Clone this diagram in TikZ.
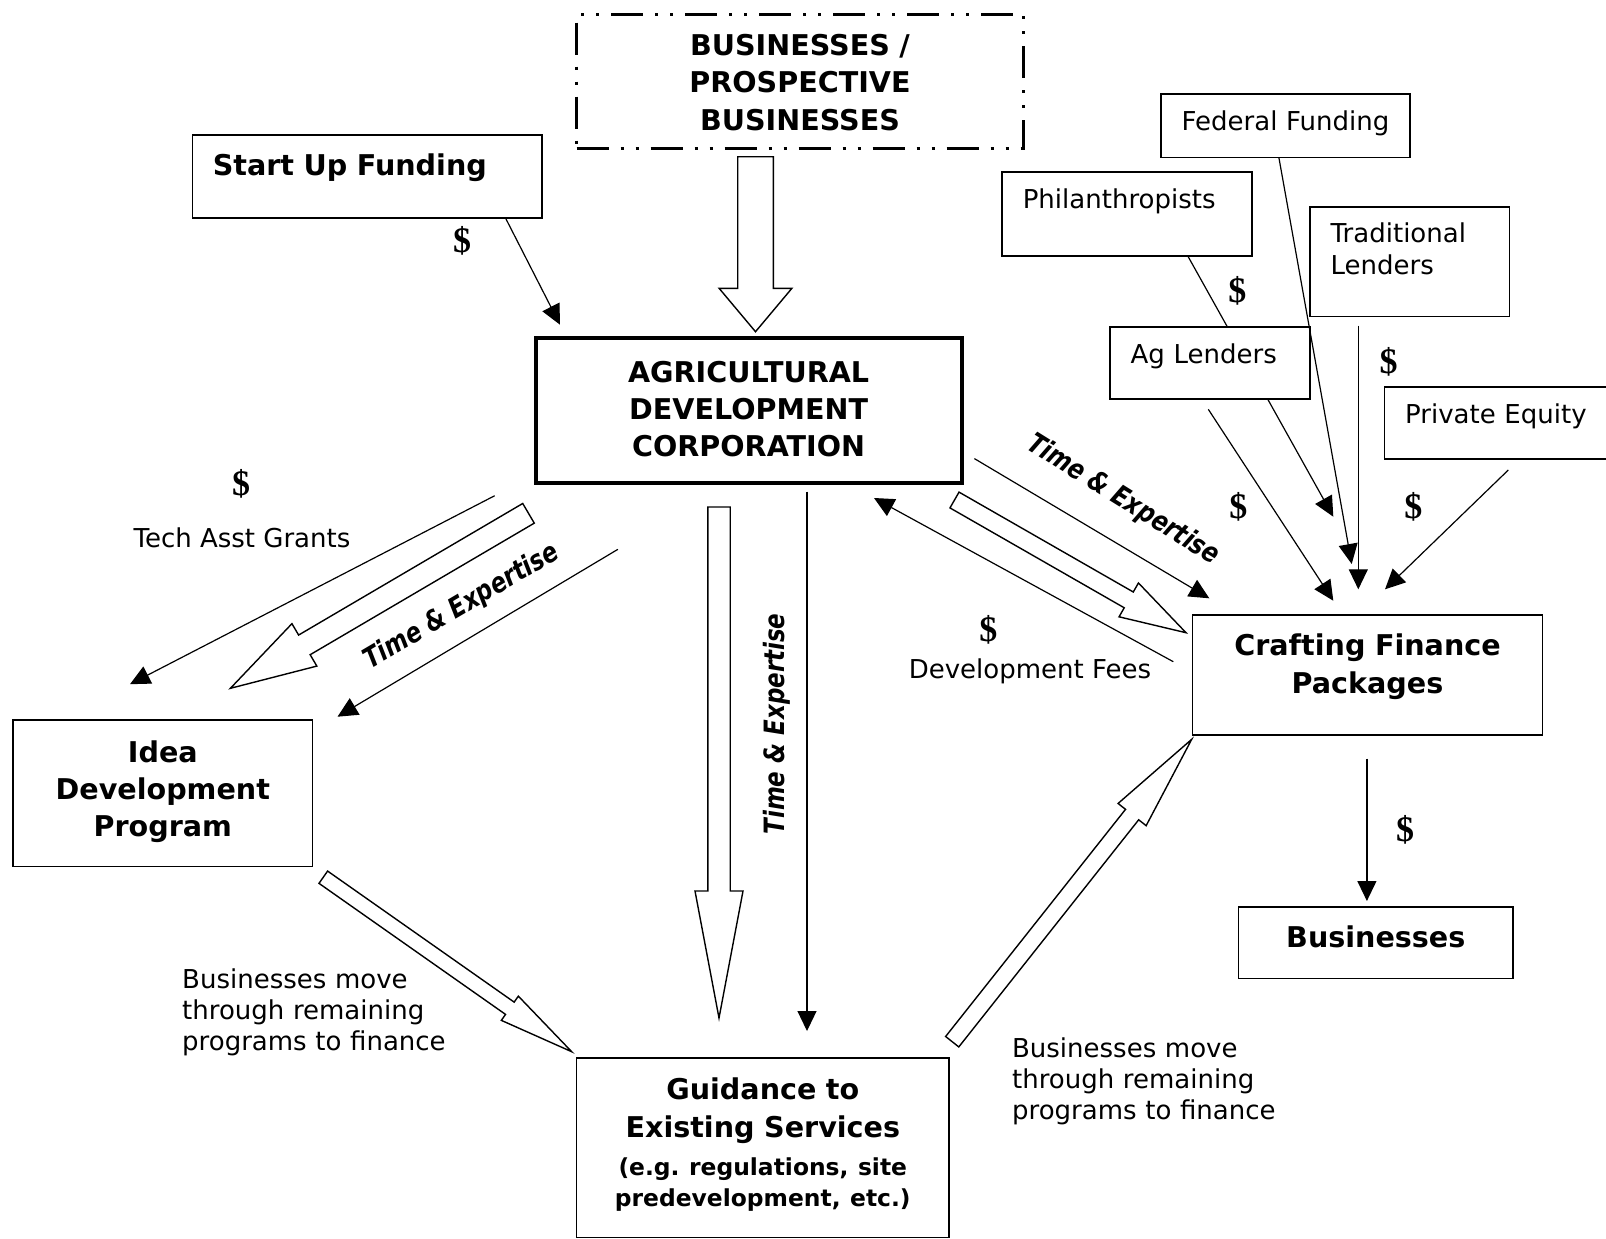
\documentclass[tikz,border=0pt]{standalone}
\usepackage{fontspec}
\setmainfont{DejaVu Sans}
\newfontfamily\dollarfont{Liberation Serif}
\newfontfamily\narrowfont[FakeStretch=0.82]{DejaVu Sans}
\usetikzlibrary{arrows.meta, calc}
\newcommand{\fatarrow}[5]{%
  \coordinate (fa-base) at ($(#2)!#5!(#1)$);
  \draw[hollow] ($(#1)!#3!90:(#2)$) -- ($(fa-base)!#3!-90:(#1)$) -- ($(fa-base)!#4!-90:(#1)$)
    -- (#2) -- ($(fa-base)!#4!90:(#1)$) -- ($(fa-base)!#3!90:(#1)$) -- ($(#1)!#3!-90:(#2)$) -- cycle;
}
\tikzset{
  srcbox/.style={draw, line width=0.8pt, fill=white, anchor=north west, align=left, inner xsep=10.4pt, inner ysep=0pt, font=\fontsize{13}{16}\selectfont},
  mainbox/.style={draw, line width=0.8pt, fill=white, anchor=north west, align=center, inner sep=0pt, font=\fontsize{14.3}{18.6}\selectfont\bfseries},
  flow/.style={-{Triangle[length=10pt, width=9.5pt]}, line width=0.6pt},
  link/.style={line width=0.6pt},
  hollow/.style={draw, fill=white, line width=0.7pt, line join=miter},
  money/.style={font=\dollarfont\bfseries\fontsize{18}{18}\selectfont, inner sep=0pt},
  note/.style={font=\fontsize{13}{15.5}\selectfont, inner sep=0pt},
  expert/.style={font=\narrowfont\bfseries\itshape\fontsize{14}{14}\selectfont, inner sep=0pt},
}
\begin{document}
\begin{tikzpicture}[x=0.5pt, y=-0.5pt]
  \useasboundingbox (0,0) rectangle (1606,1238);

  % main boxes
  \node[mainbox, line width=1.5pt, dash pattern=on 16pt off 6pt on 1.5pt off 6pt on 1.5pt off 6pt,
        text width=223.5pt, text height=20.6pt, text depth=46.4pt] (bpb) at (575,13) {BUSINESSES /\\PROSPECTIVE\\BUSINESSES};
  \node[mainbox, line width=2pt, text width=213pt, text height=22.1pt, text depth=50.4pt] (adc) at (533.6,336) {AGRICULTURAL\\DEVELOPMENT\\CORPORATION};
  \node[srcbox, font=\fontsize{14.3}{18.6}\selectfont\bfseries, inner xsep=10.25pt, text width=154.2pt, text height=20.1pt, text depth=21.6pt] (su) at (191.5,134) {Start Up Funding};
  \node[mainbox, text width=149.7pt, text height=21.1pt, text depth=52.3pt] (idea) at (12.3,719) {Idea\\Development\\Program};
  \node[mainbox, text width=186.4pt, text height=21.05pt, text depth=68.8pt] (gui) at (575.6,1057)
    {Guidance to\\Existing Services\par\vspace{3.6pt}{\fontsize{11.7}{15.5}\selectfont(e.g.\ regulations, site\\predevelopment, etc.)\par}};
  \node[mainbox, text width=174.9pt, text height=20.4pt, text depth=39.6pt] (craft) at (1191.8,614.2) {Crafting Finance\\Packages};
  \node[mainbox, text width=137.3pt, text height=20.2pt, text depth=15.6pt] (biz) at (1237.7,906) {Businesses};

  % funding sources
  \node[srcbox, text width=103.7pt, text height=18.2pt, text depth=13.55pt] (fed) at (1160,93) {\mbox{Federal Funding}};
  \node[srcbox, text width=104.2pt, text height=18.5pt, text depth=23.5pt] (phil) at (1001.2,171) {Philanthropists};
  \coordinate (phil-tip) at (1333.3,516.7);
  \draw[flow] (phil.-35.1) -- (phil-tip);
  \node[srcbox, text width=79.1pt, text height=17.95pt, text depth=36.9pt] (trad) at (1309,206) {Traditional\\Lenders};
  \node[srcbox, text width=79.2pt, text height=18.3pt, text depth=17.5pt] (ag) at (1109,326.4) {Ag Lenders};
  \node[srcbox, text width=92.5pt, text height=18.3pt, text depth=17.85pt] (pe) at (1383.5,386) {\mbox{Private Equity}};

  % free ends
  \coordinate (su-tip) at (560,324.7);
  \coordinate (fed-tip) at (1351.7,564);
  \coordinate (ag-out) at (1208.3,409.3);
  \coordinate (ag-tip) at (1333.3,600.7);
  \coordinate (trad-out) at (1358.3,325.7);
  \coordinate (trad-tip) at (1358.3,589.3);
  \coordinate (pe-out) at (1508.3,470);
  \coordinate (pe-tip) at (1385,589.3);
  \coordinate (adc-craft-out) at (974.4,458.6);
  \coordinate (adc-craft-tip) at (1209.3,598.3);
  \coordinate (fees-out) at (1173.3,661.7);
  \coordinate (fees-tip) at (874,498);
  \coordinate (grant-out) at (494.7,495.7);
  \coordinate (grant-tip) at (130,684.2);
  \coordinate (te-out) at (617.9,549.3);
  \coordinate (te-tip) at (337.5,716.7);
  \coordinate (adc-gui-out) at (807,491.6);
  \coordinate (adc-gui-tip) at (807,1031);
  \coordinate (craft-biz-out) at (1366.9,758.7);
  \coordinate (craft-biz-tip) at (1366.9,901);

  \draw[flow] (su.-17.7) -- (su-tip);
  \draw[flow] (fed.-101.6) -- (fed-tip);
  \draw[flow] (ag-out) -- (ag-tip);
  \draw[flow] (trad-out) -- (trad-tip);
  \draw[flow] (pe-out) -- (pe-tip);
  \draw[flow] (adc-craft-out) -- (adc-craft-tip);
  \draw[flow] (fees-out) -- (fees-tip);
  \draw[flow] (grant-out) -- (grant-tip);
  \draw[flow] (te-out) -- (te-tip);
  \draw[flow] (adc-gui-out) -- (adc-gui-tip);
  \draw[flow] (craft-biz-out) -- (craft-biz-tip);

  % hollow arrows
  \coordinate (bpb-tail) at (755.5,156.7);   \coordinate (bpb-head) at (755.5,331.7);
  \coordinate (idea-tail) at (528.5,513.3);  \coordinate (idea-head) at (230.4,688.3);
  \coordinate (gui-tail) at (719,507);       \coordinate (gui-head) at (719,1018);
  \coordinate (craft-tail) at (954.5,500);   \coordinate (craft-head) at (1186,632.7);
  \coordinate (move1-tail) at (323.3,877.2); \coordinate (move1-head) at (571.7,1051.7);
  \coordinate (move2-tail) at (952.2,1041.7);\coordinate (move2-head) at (1191.7,739.3);
  \fatarrow{bpb-tail}{bpb-head}{8.9pt}{18.2pt}{21.7pt}
  \fatarrow{idea-tail}{idea-head}{5.7pt}{12.3pt}{42.9pt}
  \fatarrow{gui-tail}{gui-head}{5.6pt}{12pt}{63.5pt}
  \fatarrow{craft-tail}{craft-head}{4.55pt}{9.75pt}{33pt}
  \fatarrow{move1-tail}{move1-head}{3.75pt}{7.4pt}{37.8pt}
  \fatarrow{move2-tail}{move2-head}{4.2pt}{8.95pt}{48pt}

  % labels
  \node[money] (dol-su) at (462,240.7) {\$};
  \node[money] (dol-tech) at (241,484) {\$};
  \node[note] (tech) at (242,538) {Tech Asst Grants};
  \node[money] (dol-fees) at (988.3,630) {\$};
  \node[note] (fees) at (1030,671.5) {Development Fees};
  \node[money] (dol-phil) at (1237.3,290.7) {\$};
  \node[money] (dol-trad) at (1388.5,362.1) {\$};
  \node[money] (dol-ag) at (1238.3,506.7) {\$};
  \node[money] (dol-pe) at (1413.3,506.7) {\$};
  \node[money] (dol-biz) at (1405.2,829.9) {\$};
  \node[expert, rotate=30.5] (te-left) at (461.6,606.7) {Time \& Expertise};
  \node[expert, rotate=90] (te-mid) at (777,724) {Time \& Expertise};
  \node[expert, rotate=-32] (te-right) at (1123,500) {Time \& Expertise};
  \node[note, anchor=base west, text width=170pt, align=left] (move-left) at (181.8,988.5)
    {Businesses move\\through remaining\\programs to finance};
  \node[note, anchor=base west, text width=170pt, align=left] (move-right) at (1011.7,1057.7)
    {Businesses move\\through remaining\\programs to finance};
\end{tikzpicture}
\end{document}
